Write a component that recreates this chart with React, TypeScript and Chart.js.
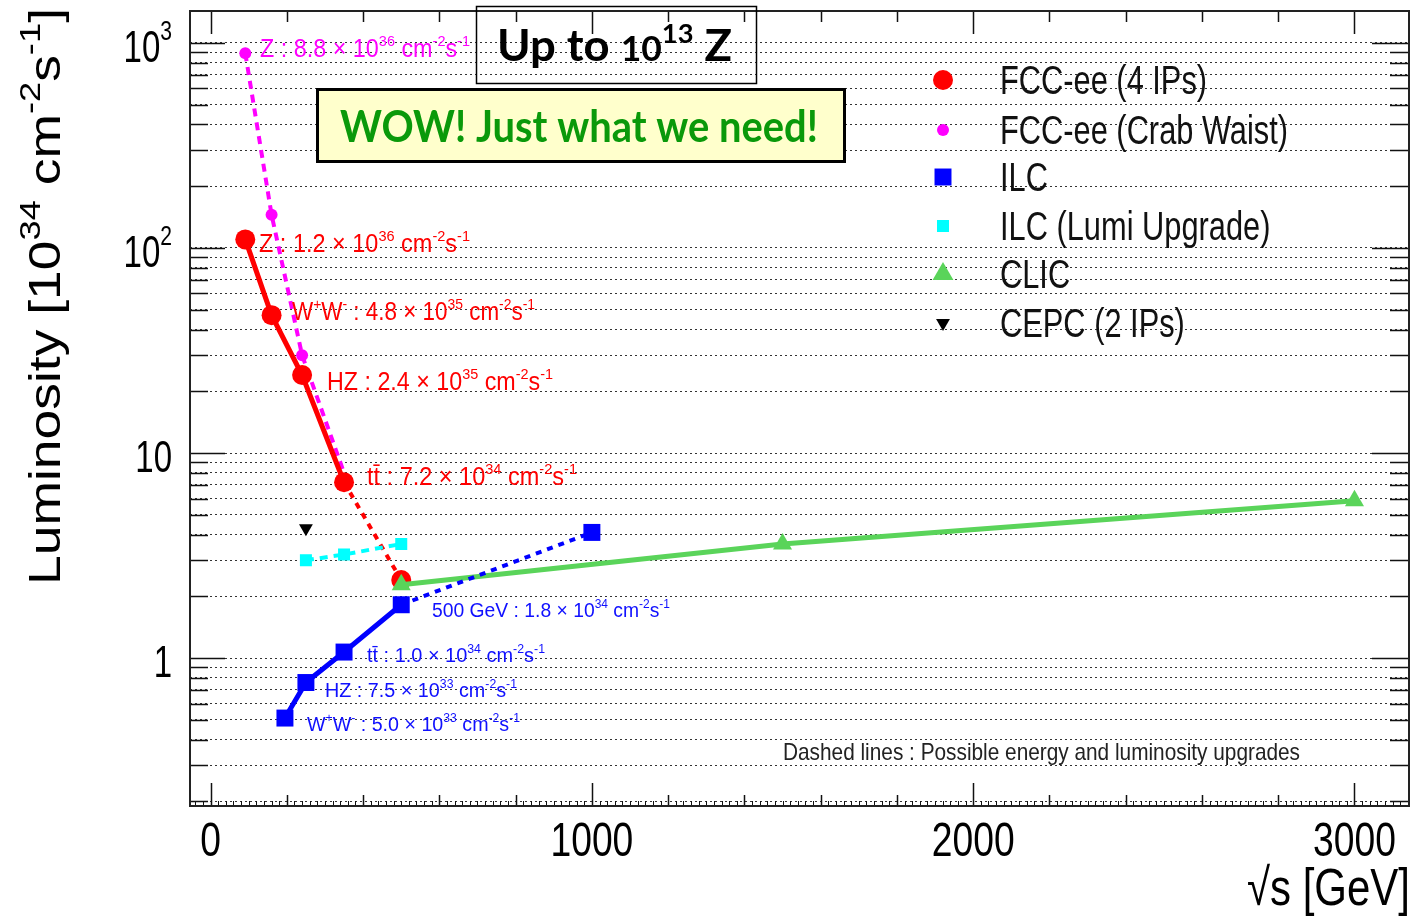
import React, { useEffect, useRef } from 'react';
import { Chart, registerables } from 'chart.js';
Chart.register(...registerables);

// ---------- data ----------
const SERIES_LABELS = ['FCC-ee (4 IPs)', 'FCC-ee (Crab Waist)', 'ILC', 'ILC (Lumi Upgrade)', 'CLIC', 'CEPC (2 IPs)'];
const FCC_X = [91, 160, 240, 350, 500];
const FCC_Y = [110, 47, 24, 7.2, 2.4];
const FCC_DASH_FROM = 3;
const CRAB_X = [91, 160, 240, 350];
const CRAB_Y = [890, 145, 30, 8];
const ILC_X = [195, 250, 350, 500, 1000];
const ILC_Y = [0.51, 0.76, 1.07, 1.82, 4.1];
const ILC_DASH_FROM = 3;
const ILCU_X = [250, 350, 500];
const ILCU_Y = [3.0, 3.2, 3.6];
const CLIC_X = [500, 1500, 3000];
const CLIC_Y = [2.28, 3.6, 5.85];
const CEPC_X = [250];
const CEPC_Y = [4.3];

const X_TICK_LABELS = [0, 1000, 2000, 3000];
const Y_TICK_VALUES = [1000, 100, 10, 1];
const Y_TICK_TEXT = [['10', '3'], ['10', '2'], ['10', ''], ['1', '']];
const X_MIN = -54, X_MAX = 3143, Y_MIN = 0.19, Y_MAX = 1430;

type Seg = [string, number?];
const ANNOTATIONS: { segs: Seg[]; color: string; x: number; y: number; w: number; size: number }[] = [
  { segs: [['Z : 8.8 × 10'], ['36', 1], [' cm'], ['-2', 1], ['s'], ['-1', 1]], color: '#ff00ff', x: 260, y: 57, w: 210, size: 25 },
  { segs: [['Z : 1.2 × 10'], ['36', 1], [' cm'], ['-2', 1], ['s'], ['-1', 1]], color: '#ff0000', x: 259, y: 252, w: 211, size: 25 },
  { segs: [['W'], ['+', 1], ['W'], ['-', 1], [' : 4.8 × 10'], ['35', 1], [' cm'], ['-2', 1], ['s'], ['-1', 1]], color: '#ff0000', x: 292, y: 320, w: 243, size: 25 },
  { segs: [['HZ : 2.4 × 10'], ['35', 1], [' cm'], ['-2', 1], ['s'], ['-1', 1]], color: '#ff0000', x: 327, y: 390, w: 226, size: 25 },
  { segs: [['tt\u0304 : 7.2 × 10'], ['34', 1], [' cm'], ['-2', 1], ['s'], ['-1', 1]], color: '#ff0000', x: 367, y: 485, w: 210, size: 25 },
  { segs: [['500 GeV : 1.8 × 10'], ['34', 1], [' cm'], ['-2', 1], ['s'], ['-1', 1]], color: '#1010ff', x: 432, y: 617, w: 238, size: 20 },
  { segs: [['tt\u0304 : 1.0 × 10'], ['34', 1], [' cm'], ['-2', 1], ['s'], ['-1', 1]], color: '#1010ff', x: 367, y: 662, w: 178, size: 20 },
  { segs: [['HZ : 7.5 × 10'], ['33', 1], [' cm'], ['-2', 1], ['s'], ['-1', 1]], color: '#1010ff', x: 325, y: 697, w: 192, size: 20 },
  { segs: [['W'], ['+', 1], ['W'], ['-', 1], [' : 5.0 × 10'], ['33', 1], [' cm'], ['-2', 1], ['s'], ['-1', 1]], color: '#1010ff', x: 307, y: 731, w: 213, size: 20 },
  { segs: [['Dashed lines : Possible energy and luminosity upgrades']], color: '#222222', x: 783, y: 760, w: 517, size: 24 },
];

const RED = '#ff0000', MAGENTA = '#ff00ff', BLUE = '#0000ff', CYAN = '#00ffff', GREEN = '#5ad45a', BLACK = '#000000';

function drawRich(ctx: CanvasRenderingContext2D, segs: Seg[], x: number, y: number, o: any) {
  const F = o.size;
  const fam = o.family || 'Liberation Sans';
  const wt = o.weight || 'normal';
  const parts = segs.map(([t, k]) => {
    const sz = k === 1 ? F * (o.supScale ?? 0.62) : k === 2 ? F * (o.smallScale ?? 0.8) : F;
    ctx.font = `${wt} ${sz}px "${fam}"`;
    return { t, k, sz, w: ctx.measureText(t).width };
  });
  const W = parts.reduce((a, p) => a + p.w, 0);
  const sx = o.fit ? o.fit / W : (o.sx ?? 1);
  let x0 = x;
  if (o.align === 'right') x0 = x - W * sx;
  else if (o.align === 'center') x0 = x - (W * sx) / 2;
  ctx.save();
  ctx.translate(x0, y);
  ctx.scale(sx, o.sy ?? 1);
  ctx.fillStyle = o.color;
  ctx.textAlign = 'left';
  ctx.textBaseline = 'alphabetic';
  let cx = 0;
  for (const p of parts) {
    ctx.font = `${wt} ${p.sz}px "${fam}"`;
    ctx.fillText(p.t, cx, p.k === 1 ? -F * (o.supRise ?? 0.42) : 0);
    cx += p.w;
  }
  ctx.restore();
}

function drawMarker(ctx: CanvasRenderingContext2D, style: string, x: number, y: number, r: number, color: string, rot: number) {
  ctx.save();
  ctx.fillStyle = color;
  ctx.beginPath();
  if (style === 'circle') {
    ctx.arc(x, y, r, 0, Math.PI * 2);
  } else if (style === 'rect') {
    const s = Math.SQRT1_2 * r;
    ctx.rect(x - s, y - s, 2 * s, 2 * s);
  } else if (style === 'triangle') {
    let a = (rot * Math.PI) / 180;
    for (let i = 0; i < 3; i++) {
      const px = x + Math.sin(a) * r, py = y - Math.cos(a) * r;
      if (i === 0) ctx.moveTo(px, py); else ctx.lineTo(px, py);
      a += (2 * Math.PI) / 3;
    }
    ctx.closePath();
  }
  ctx.fill();
  ctx.restore();
}

const Y_GRID: number[] = [];
for (const d of [0.1, 1, 10, 100, 1000]) {
  for (let m = 1; m <= 9; m++) {
    const v = +(d * m).toPrecision(3);
    if (v >= Y_MIN && v <= Y_MAX) Y_GRID.push(v);
  }
}

const framePlugin = {
  id: 'rootFrame',
  afterDraw(chart: any) {
    const ctx: CanvasRenderingContext2D = chart.ctx;
    const { left, right, top, bottom } = chart.chartArea;
    const xs = chart.scales.x, ys = chart.scales.y;
    ctx.save();
    // ticks
    ctx.strokeStyle = '#111';
    ctx.lineWidth = 1.5;
    ctx.beginPath();
    for (const v of Y_GRID) {
      const py = Math.round(ys.getPixelForValue(v)) + 0.5;
      const major = Math.abs(Math.log10(v) - Math.round(Math.log10(v))) < 1e-6;
      const l1 = major ? 35 : 18, l2 = major ? 37 : 19;
      ctx.moveTo(left, py); ctx.lineTo(left + l1, py);
      ctx.moveTo(right, py); ctx.lineTo(right - l2, py);
    }
    for (let v = 0; v <= X_MAX; v += 200) {
      const px = Math.round(xs.getPixelForValue(v)) + 0.5;
      const major = v % 1000 === 0;
      const l = major ? 23 : 11;
      ctx.moveTo(px, bottom); ctx.lineTo(px, bottom - l);
      ctx.moveTo(px, top); ctx.lineTo(px, top + l);
    }
    ctx.stroke();
    ctx.lineWidth = 1;
    ctx.beginPath();
    for (let v = -40; v <= X_MAX; v += 20) {
      if (v % 200 === 0) continue;
      const px = Math.round(xs.getPixelForValue(v)) + 0.5;
      ctx.moveTo(px, bottom); ctx.lineTo(px, bottom - 5);
    }
    ctx.stroke();
    // frame
    ctx.strokeStyle = '#222';
    ctx.lineWidth = 2;
    ctx.strokeRect(left, top, right - left, bottom - top);

    // x tick labels
    for (const v of X_TICK_LABELS) {
      drawRich(ctx, [[String(v)]], xs.getPixelForValue(v), 856, { size: 49, sx: 0.76, align: 'center', color: '#000' });
    }
    // y tick labels
    Y_TICK_VALUES.forEach((v, i) => {
      const [b, s] = Y_TICK_TEXT[i];
      const segs: Seg[] = s ? [[b], [s, 1]] : [[b]];
      drawRich(ctx, segs, 172, ys.getPixelForValue(v) + 19, { size: 44, sx: 0.75, align: 'right', color: '#000', supScale: 0.64, supRise: 0.5 });
    });
    // axis titles
    drawRich(ctx, [['√s [GeV]']], 1410, 905, { size: 52, fit: 163, align: 'right', color: '#000' });
    ctx.save();
    ctx.translate(60, 585);
    ctx.rotate(-Math.PI / 2);
    drawRich(ctx, [['Luminosity [10'], ['34', 1], [' cm'], ['-2', 1], ['s'], ['-1', 1], [']']], 0, 0, { size: 44, fit: 577, color: '#000', supScale: 0.68, supRise: 0.45 });
    ctx.restore();

    // annotations
    for (const a of ANNOTATIONS) {
      drawRich(ctx, a.segs, a.x, a.y, { size: a.size, fit: a.w, color: a.color, supScale: 0.62, supRise: 0.45 });
    }

    // legend
    const rowY = [80, 130, 177, 226, 274, 323];
    chart.data.datasets.forEach((ds: any, i: number) => {
      const cy = rowY[i];
      drawMarker(ctx, ds.pointStyle, 943, cy, ds.legendRadius, ds.backgroundColor, ds.pointRotation || 0);
      drawRich(ctx, [[ds.label]], 1000, cy + 14, { size: 40, sx: 0.77, color: '#111' });
    });

    // boxes
    ctx.lineWidth = 1.5;
    ctx.strokeStyle = '#000';
    ctx.strokeRect(476.5, 6.5, 280, 77);
    drawRich(ctx, [['Up to '], ['10', 2], ['13', 1], [' Z']], 497, 61, { size: 44, fit: 235, color: '#000', weight: 'bold', family: 'Lato', smallScale: 0.78, supScale: 0.6, supRise: 0.4 });
    ctx.fillStyle = '#ffffcc';
    ctx.fillRect(317, 89, 528, 73);
    ctx.lineWidth = 3;
    ctx.strokeRect(317.5, 89.5, 527, 72);
    drawRich(ctx, [['WOW! Just what we need!']], 340, 142, { size: 44, fit: 478, color: '#0a990a', weight: 'bold', family: 'Lato' });
    ctx.restore();
  },
};

const pts = (xs: number[], ys: number[]) => xs.map((x, i) => ({ x, y: ys[i] }));

export default function App() {
  const ref = useRef<HTMLCanvasElement>(null);
  useEffect(() => {
    const chart = new Chart(ref.current!, {
      type: 'line',
      data: {
        datasets: [
          {
            label: SERIES_LABELS[0], data: pts(FCC_X, FCC_Y), borderColor: RED, backgroundColor: RED,
            borderWidth: 5, pointRadius: 10, pointStyle: 'circle', pointBorderWidth: 0, order: 5,
            segment: { borderDash: (c: any) => (c.p0DataIndex >= FCC_DASH_FROM ? [6, 6] : undefined), borderWidth: (c: any) => (c.p0DataIndex >= FCC_DASH_FROM ? 4 : undefined) },
            legendRadius: 10,
          } as any,
          {
            label: SERIES_LABELS[1], data: pts(CRAB_X, CRAB_Y), borderColor: MAGENTA, backgroundColor: MAGENTA,
            borderWidth: 4, borderDash: [8, 6], pointRadius: [6, 6, 6, 0], pointStyle: 'circle', pointBorderWidth: 0, order: 6,
            legendRadius: 6,
          } as any,
          {
            label: SERIES_LABELS[2], data: pts(ILC_X, ILC_Y), borderColor: BLUE, backgroundColor: BLUE,
            borderWidth: 5, pointRadius: 12, pointStyle: 'rect', pointBorderWidth: 0, order: 1,
            segment: { borderDash: (c: any) => (c.p0DataIndex >= ILC_DASH_FROM ? [6, 6] : undefined), borderWidth: (c: any) => (c.p0DataIndex >= ILC_DASH_FROM ? 4 : undefined) },
            legendRadius: 12,
          } as any,
          {
            label: SERIES_LABELS[3], data: pts(ILCU_X, ILCU_Y), borderColor: CYAN, backgroundColor: CYAN,
            borderWidth: 4, borderDash: [8, 6], pointRadius: 8.5, pointStyle: 'rect', pointBorderWidth: 0, order: 3,
            legendRadius: 8.5,
          } as any,
          {
            label: SERIES_LABELS[4], data: pts(CLIC_X, CLIC_Y), borderColor: GREEN, backgroundColor: GREEN,
            borderWidth: 5, pointRadius: 11, pointStyle: 'triangle', pointBorderWidth: 0, order: 2,
            legendRadius: 12,
          } as any,
          {
            label: SERIES_LABELS[5], data: pts(CEPC_X, CEPC_Y), borderColor: BLACK, backgroundColor: BLACK,
            showLine: false, pointRadius: 8, pointStyle: 'triangle', pointRotation: 180, pointBorderWidth: 0, order: 0,
            legendRadius: 8,
          } as any,
        ],
      },
      options: {
        responsive: false,
        animation: false,
        devicePixelRatio: 1,
        layout: { autoPadding: false, padding: { left: 190, right: 5, top: 11, bottom: 111 } },
        plugins: { legend: { display: false }, tooltip: { enabled: false } },
        elements: { line: { tension: 0 } },
        scales: {
          x: {
            type: 'linear', min: X_MIN, max: X_MAX,
            grid: { display: false }, ticks: { display: false }, border: { display: false },
            afterFit: (s: any) => { s.height = 0; },
          },
          y: {
            type: 'logarithmic', min: Y_MIN, max: Y_MAX,
            grid: { color: '#333', lineWidth: 1, drawTicks: false },
            border: { display: false, dash: [2, 3] },
            ticks: { display: false },
            afterBuildTicks: (s: any) => { s.ticks = Y_GRID.map((v) => ({ value: v })); },
            afterFit: (s: any) => { s.width = 0; },
          },
        },
      } as any,
      plugins: [framePlugin],
    });
    return () => chart.destroy();
  }, []);
  return (
    <div style={{ position: 'fixed', left: 0, top: 0, width: 1414, height: 917, background: '#fff' }}>
      <canvas ref={ref} width={1414} height={917} style={{ display: 'block', width: 1414, height: 917 }} />
    </div>
  );
}
